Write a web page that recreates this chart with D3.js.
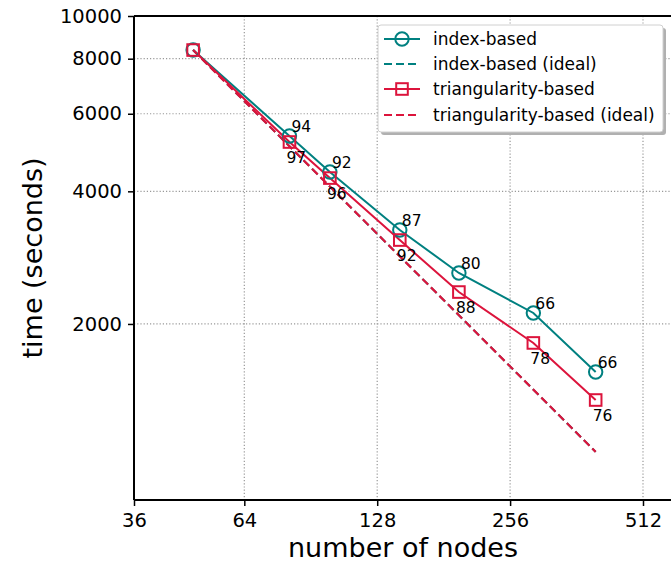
<!DOCTYPE html>
<html><head><meta charset="utf-8">
<script src="https://cdn.jsdelivr.net/npm/d3@7"></script>
<style>body{margin:0;background:#fff}svg{display:block}text{font-family:"DejaVu Sans",sans-serif}</style>
</head><body><svg id="c" width="671" height="562"></svg>
<script>
const nodes = [49, 81, 100, 144, 196, 289, 400];
const indexTime = [8370, 5340, 4426, 3268, 2611, 2118, 1556];
const indexIdeal = [8370, 5063, 4101, 2848, 2093, 1419, 1025];
const triTime = [8370, 5176, 4287, 3101, 2363, 1811, 1344];
const triIdeal = [8370, 5063, 4101, 2848, 2093, 1419, 1025];
const indexEff = [null, 94, 92, 87, 80, 66, 66];
const triEff = [null, 97, 96, 92, 88, 78, 76];
const xTicks = [36, 64, 128, 256, 512];
const yTicks = [2000, 4000, 6000, 8000, 10000];
const legendLabels = ["index-based", "index-based (ideal)", "triangularity-based", "triangularity-based (ideal)"];

const TEAL = "#008080", CRIM = "#dc143c";
const svg = d3.select("#c");
const L = 134, T = 16, B = 500, R = 672;
const x = d3.scaleLog().base(2).domain([36, 512]).range([L, 643]);
const y = d3.scaleLog().domain([797, 10000]).range([B, T]);

// grid
const g = svg.append("g");
g.selectAll(".gx").data(xTicks.slice(1)).enter().append("line")
  .attr("x1", d => x(d)).attr("x2", d => x(d)).attr("y1", T).attr("y2", B)
  .attr("stroke", "#999").attr("stroke-width", 1.2).attr("stroke-dasharray", "1.2,2");
g.selectAll(".gy").data(yTicks.slice(0, -1)).enter().append("line")
  .attr("y1", d => y(d)).attr("y2", d => y(d)).attr("x1", L).attr("x2", R)
  .attr("stroke", "#999").attr("stroke-width", 1.2).attr("stroke-dasharray", "1.2,2");

// axes
const xAxis = d3.axisBottom(x).tickValues(xTicks).tickFormat(d3.format("d")).tickSize(6).tickPadding(6);
const yAxis = d3.axisLeft(y).tickValues(yTicks).tickFormat(d3.format("d")).tickSize(6).tickPadding(6);
const ax = svg.append("g").attr("transform", `translate(0,${B})`).call(xAxis);
const ay = svg.append("g").attr("transform", `translate(${L},0)`).call(yAxis);
[ax, ay].forEach(a => {
  a.select(".domain").remove();
  a.selectAll(".tick line").attr("stroke", "#000").attr("stroke-width", 1.5);
  a.selectAll(".tick text").attr("fill", "#000").style("font-size", "19.5px").style("font-family", "DejaVu Sans");
});
ax.selectAll(".tick text").attr("dy", "0.78em");
// spines
svg.append("line").attr("x1", L).attr("x2", R).attr("y1", B).attr("y2", B).attr("stroke", "#000").attr("stroke-width", 2);
svg.append("line").attr("x1", L).attr("x2", R).attr("y1", T).attr("y2", T).attr("stroke", "#000").attr("stroke-width", 2);
svg.append("line").attr("x1", L).attr("x2", L).attr("y1", T).attr("y2", B).attr("stroke", "#000").attr("stroke-width", 2);

// labels
svg.append("text").attr("x", 403).attr("y", 557).attr("text-anchor", "middle").style("font-size", "27px").text("number of nodes");
svg.append("text").attr("transform", `translate(42,258) rotate(-90)`).attr("text-anchor", "middle").style("font-size", "27px").text("time (seconds)");

// lines
const line = arr => d3.line().x((d, i) => x(nodes[i])).y((d, i) => y(arr[i]))(arr);
svg.append("path").attr("d", line(indexIdeal)).attr("fill", "none").attr("stroke", TEAL).attr("stroke-width", 2).attr("stroke-dasharray", "8,4");
svg.append("path").attr("d", line(triIdeal)).attr("fill", "none").attr("stroke", CRIM).attr("stroke-width", 2.2).attr("stroke-dasharray", "8,4");
svg.append("path").attr("d", line(indexTime)).attr("fill", "none").attr("stroke", TEAL).attr("stroke-width", 2);
svg.append("path").attr("d", line(triTime)).attr("fill", "none").attr("stroke", CRIM).attr("stroke-width", 2);

svg.selectAll(".ci").data(indexTime).enter().append("circle")
  .attr("cx", (d, i) => x(nodes[i])).attr("cy", d => y(d)).attr("r", 6.7)
  .attr("fill", "none").attr("stroke", TEAL).attr("stroke-width", 2);
svg.selectAll(".sq").data(triTime).enter().append("rect")
  .attr("x", (d, i) => x(nodes[i]) - 5.8).attr("y", d => y(d) - 5.8).attr("width", 11.6).attr("height", 11.6)
  .attr("fill", "none").attr("stroke", CRIM).attr("stroke-width", 2);

// annotations
nodes.forEach((n, i) => {
  if (indexEff[i] != null)
    svg.append("text").attr("x", x(n) + 2).attr("y", y(indexTime[i]) - 4).style("font-size", "15.5px").text(indexEff[i]);
  if (triEff[i] != null)
    svg.append("text").attr("x", x(n) - 3).attr("y", y(triTime[i]) + 21).style("font-size", "15.5px").text(triEff[i]);
});

// legend
const lg = svg.append("g");
lg.append("rect").attr("x", 381).attr("y", 28).attr("width", 285).attr("height", 107).attr("rx", 3).attr("fill", "#b0b0b0");
lg.append("rect").attr("x", 378).attr("y", 25).attr("width", 285).attr("height", 107).attr("rx", 3).attr("fill", "#fff").attr("stroke", "#d0d0d0").attr("stroke-width", 1);
const ly = [39, 64, 89, 115];
const styles = [{c: TEAL, dash: null, m: "c"}, {c: TEAL, dash: "8,4", m: null}, {c: CRIM, dash: null, m: "s"}, {c: CRIM, dash: "8,4", m: null}];
legendLabels.forEach((t, i) => {
  const s = styles[i];
  lg.append("line").attr("x1", 384).attr("x2", 420).attr("y1", ly[i]).attr("y2", ly[i]).attr("stroke", s.c).attr("stroke-width", 2.2).attr("stroke-dasharray", s.dash);
  if (s.m === "c") lg.append("circle").attr("cx", 402).attr("cy", ly[i]).attr("r", 6.7).attr("fill", "none").attr("stroke", s.c).attr("stroke-width", 2);
  if (s.m === "s") lg.append("rect").attr("x", 396.2).attr("y", ly[i] - 5.8).attr("width", 11.6).attr("height", 11.6).attr("fill", "none").attr("stroke", s.c).attr("stroke-width", 2);
  lg.append("text").attr("x", 433).attr("y", ly[i]).attr("dy", "0.35em").style("font-size", "17px").text(t);
});
</script></body></html>
